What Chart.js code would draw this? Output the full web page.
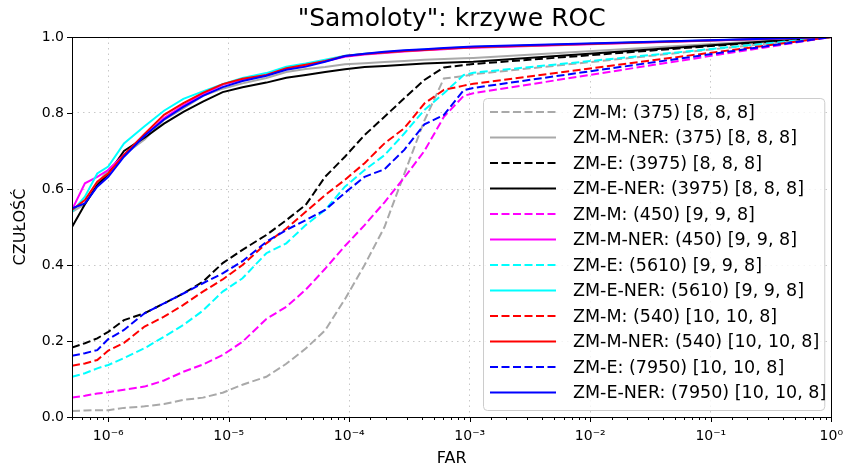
<!DOCTYPE html>
<html><head><meta charset="utf-8">
<script src="https://cdn.jsdelivr.net/npm/chart.js@4/dist/chart.umd.min.js"></script>
<style>html,body{margin:0;padding:0;background:#fff}</style>
</head><body>
<canvas id="c" width="854" height="468"></canvas>
<script>
// FAR grid (x values)
const far = [5e-7, 6.4e-7, 8.1e-7, 1e-6, 1.35e-6, 2e-6, 2.9e-6, 4.2e-6, 6.1e-6, 8.9e-6, 1.3e-5, 2.05e-5, 3e-5, 4.35e-5, 6.3e-5, 9.2e-5, 1.34e-4, 1.96e-4, 2.86e-4, 4.2e-4, 6.1e-4, 8.9e-4, 1.07e-3, 1];

// Sensitivity (CZUŁOŚĆ) per series
const zmM375     = [.016,.017,.018,.018,.024,.028,.034,.045,.051,.064,.085,.106,.14,.18,.228,.31,.40,.50,.64,.78,.891,.897,.902,1];
const zmMner375  = [.54,.56,.615,.65,.69,.73,.782,.812,.845,.864,.878,.892,.908,.916,.921,.928,.931,.934,.937,.94,.942,.944,.945,1];
const zmE3975    = [.183,.194,.207,.224,.255,.273,.299,.325,.356,.405,.44,.479,.518,.558,.632,.685,.742,.79,.839,.887,.92,.926,.929,1];
const zmEner3975 = [.50,.56,.61,.64,.70,.735,.772,.803,.83,.855,.868,.88,.893,.90,.908,.915,.921,.924,.927,.93,.932,.934,.935,1];
const zmM450     = [.051,.056,.062,.065,.072,.08,.096,.119,.138,.163,.198,.258,.29,.335,.39,.45,.505,.565,.63,.70,.79,.845,.852,1];
const zmMner450  = [.545,.615,.632,.65,.69,.74,.787,.82,.85,.874,.888,.90,.917,.926,.936,.948,.954,.958,.962,.965,.968,.971,.972,1];
const zmE5610    = [.106,.115,.128,.137,.155,.181,.211,.242,.28,.33,.365,.431,.457,.505,.545,.606,.65,.689,.746,.808,.852,.90,.906,1];
const zmEner5610 = [.54,.58,.641,.659,.72,.765,.806,.837,.857,.876,.892,.905,.922,.93,.94,.951,.956,.96,.964,.967,.97,.973,.974,1];
const zmM540     = [.135,.141,.15,.175,.195,.238,.264,.295,.33,.362,.40,.457,.496,.54,.584,.624,.668,.72,.76,.825,.861,.872,.877,1];
const zmMner540  = [.545,.571,.619,.641,.69,.745,.795,.826,.853,.876,.89,.90,.918,.927,.937,.95,.955,.959,.963,.966,.969,.972,.973,1];
const zmE7950    = [.161,.168,.176,.205,.229,.273,.299,.325,.352,.378,.41,.461,.492,.518,.545,.59,.632,.652,.703,.77,.795,.86,.866,1];
const zmEner7950 = [.549,.562,.606,.632,.685,.74,.783,.816,.845,.868,.884,.898,.914,.922,.935,.95,.956,.961,.965,.968,.971,.974,.975,1];

const seriesValues = [zmM375, zmMner375, zmE3975, zmEner3975, zmM450, zmMner450, zmE5610, zmEner5610, zmM540, zmMner540, zmE7950, zmEner7950];
const seriesLabels = [
  'ZM-M: (375) [8, 8, 8]', 'ZM-M-NER: (375) [8, 8, 8]',
  'ZM-E: (3975) [8, 8, 8]', 'ZM-E-NER: (3975) [8, 8, 8]',
  'ZM-M: (450) [9, 9, 8]', 'ZM-M-NER: (450) [9, 9, 8]',
  'ZM-E: (5610) [9, 9, 8]', 'ZM-E-NER: (5610) [9, 9, 8]',
  'ZM-M: (540) [10, 10, 8]', 'ZM-M-NER: (540) [10, 10, 8]',
  'ZM-E: (7950) [10, 10, 8]', 'ZM-E-NER: (7950) [10, 10, 8]'
];
const seriesColors = ['#a9a9a9','#a9a9a9','#000000','#000000','#ff00ff','#ff00ff','#00ffff','#00ffff','#ff0000','#ff0000','#0000ff','#0000ff'];
const seriesDashed = [true,false,true,false,true,false,true,false,true,false,true,false];

const yTicks = [0, 0.2, 0.4, 0.6, 0.8, 1.0];
const chartTitle = '"Samoloty": krzywe ROC';
const xTitle = 'FAR';
const yTitle = 'CZUŁOŚĆ';

const FONT = "'DejaVu Sans', sans-serif";
const DASH = [8, 3.5];
const sup = {'-':'\u207B','0':'\u2070','1':'\u00B9','2':'\u00B2','3':'\u00B3','4':'\u2074','5':'\u2075','6':'\u2076','7':'\u2077','8':'\u2078','9':'\u2079'};
function isDecade(v){ const l = Math.log10(v); return Math.abs(l - Math.round(l)) < 1e-9; }
function decadeLabel(v){ const e = String(Math.round(Math.log10(v))); return '10' + e.split('').map(c => sup[c]).join(''); }

const datasets = seriesValues.map((vals, i) => ({
  label: seriesLabels[i],
  data: vals.map((y, j) => ({x: far[j], y})),
  borderColor: seriesColors[i],
  backgroundColor: seriesColors[i],
  borderWidth: 2,
  borderDash: seriesDashed[i] ? DASH : [],
  pointRadius: 0,
  tension: 0,
  fill: false,
  order: seriesValues.length - i
}));

const framePlugin = {
  id: 'frame',
  afterDatasetsDraw(chart) {
    const {ctx, chartArea: a, scales} = chart;
    ctx.save();
    ctx.strokeStyle = '#000'; ctx.lineWidth = 1;
    ctx.beginPath();
    scales.x.ticks.forEach(t => {
      const px = Math.round(scales.x.getPixelForValue(t.value)) + 0.5;
      if (px < a.left - 1 || px > a.right + 1) return;
      const len = isDecade(t.value) ? 5 : 3;
      ctx.moveTo(px, a.bottom); ctx.lineTo(px, a.bottom + len);
    });
    scales.y.ticks.forEach(t => {
      const py = Math.round(scales.y.getPixelForValue(t.value)) + 0.5;
      ctx.moveTo(a.left, py); ctx.lineTo(a.left - 5, py);
    });
    ctx.stroke();
    ctx.strokeRect(Math.round(a.left) + 0.5, Math.round(a.top) + 0.5, Math.round(a.right - a.left), Math.round(a.bottom - a.top));
    ctx.fillStyle = '#000';
    ctx.font = '25px ' + FONT;
    ctx.textAlign = 'center'; ctx.textBaseline = 'middle';
    ctx.fillText(chartTitle, (a.left + a.right) / 2, 19);
    ctx.restore();
  },
  afterDraw(chart) {
    const {ctx, chartArea: a} = chart;
    const ds = chart.data.datasets;
    ctx.save();
    const bx = 483, by = 98, bw = a.right - 7 - bx, bh = a.bottom - 7 - by;
    ctx.beginPath();
    ctx.roundRect(bx + 0.5, by + 0.5, bw, bh, 4);
    ctx.fillStyle = 'rgba(255,255,255,0.8)';
    ctx.fill();
    ctx.strokeStyle = '#cccccc'; ctx.lineWidth = 1;
    ctx.stroke();
    ctx.font = '17.5px ' + FONT;
    ctx.textAlign = 'left'; ctx.textBaseline = 'middle';
    const rowH = 25.5, y0 = by + 14;
    ds.forEach((d, i) => {
      const y = y0 + i * rowH;
      ctx.beginPath();
      ctx.setLineDash(d.borderDash || []);
      ctx.strokeStyle = d.borderColor; ctx.lineWidth = 2;
      ctx.moveTo(bx + 7, y); ctx.lineTo(bx + 73, y);
      ctx.stroke();
      ctx.setLineDash([]);
      ctx.fillStyle = '#000';
      ctx.fillText(d.label, bx + 90, y + 1);
    });
    ctx.restore();
  }
};

new Chart(document.getElementById('c'), {
  type: 'line',
  data: { datasets },
  options: {
    responsive: false,
    animation: false,
    devicePixelRatio: 1,
    layout: { padding: { top: 37, right: 14, left: 0, bottom: 0 } },
    plugins: { legend: { display: false }, tooltip: { enabled: false }, title: { display: false } },
    scales: {
      x: {
        type: 'logarithmic',
        min: 5e-7, max: 1,
        afterFit(s) { s.height = 51; },
        border: { display: false, dash: [1.5, 4] },
        grid: {
          drawTicks: false,
          color: c => (c.tick && isDecade(c.tick.value)) ? '#c8c8c8' : 'rgba(0,0,0,0)',
          lineWidth: 1
        },
        ticks: {
          autoSkip: false, maxRotation: 0, minRotation: 0, padding: 11,
          color: '#000', font: { family: FONT, size: 14 },
          callback: v => isDecade(v) ? decadeLabel(v) : ''
        },
        title: { display: true, text: xTitle, color: '#000', font: { family: FONT, size: 16 }, padding: { top: 0, bottom: 0 } }
      },
      y: {
        min: 0, max: 1,
        afterFit(s) { s.width = 72; },
        afterBuildTicks(s) { s.ticks = yTicks.map(v => ({value: v})); },
        border: { display: false, dash: [1.5, 4] },
        grid: { drawTicks: false, color: '#c8c8c8', lineWidth: 1 },
        ticks: {
          padding: 8, color: '#000', font: { family: FONT, size: 14 },
          callback: v => Number(v).toFixed(1)
        },
        title: { display: true, text: yTitle, color: '#000', font: { family: FONT, size: 16 }, padding: { top: 11, bottom: 0 } }
      }
    }
  },
  plugins: [framePlugin]
});
</script>
</body></html>
